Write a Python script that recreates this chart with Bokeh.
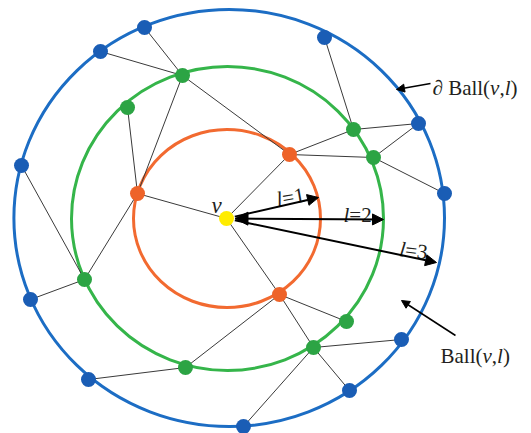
import math
from bokeh.plotting import figure
from bokeh.models import Range1d, Arrow, NormalHead, ColumnDataSource
from bokeh.core.properties import value
from bokeh.embed import file_html
from bokeh.resources import INLINE

# ---- data (diagram coordinates, y grows downward) ----
ring_names = ["orange", "green", "blue"]
ring_cx = [226.5, 227.0, 228.7]
ring_cy = [218.0, 218.0, 217.5]
ring_rx = [93.5, 156.0, 215.3]
ring_ry = [89.0, 152.0, 208.5]
ring_colors = ["#f26a30", "#35b54a", "#1c6dc4"]

node_names = ["v",
              "O1", "O2", "O3",
              "G1", "G2", "G3", "G4", "G5", "G6", "G7", "G8",
              "B1", "B2", "B3", "B4", "B5", "B6", "B7", "B8", "B9", "B10", "B11"]
node_x = [226, 137, 289, 279,
          182, 127, 353, 373, 84, 185, 346, 313,
          144, 100, 21, 324, 418, 444, 30, 88, 243, 401, 349]
node_y = [218, 193, 154, 294,
          75, 107, 129, 157, 279, 367, 321, 347,
          27, 51, 165, 37, 123, 193, 299, 379, 426, 339, 390]
node_level = [0, 1, 1, 1, 2, 2, 2, 2, 2, 2, 2, 2,
              3, 3, 3, 3, 3, 3, 3, 3, 3, 3, 3]
level_colors = ["#ffec00", "#ee6329", "#2ca444", "#1a5db5"]

edges = [("v", "O1"), ("v", "O2"), ("v", "O3"),
         ("O1", "G1"), ("O1", "G2"), ("O1", "G5"),
         ("G1", "B1"), ("G1", "B2"), ("G1", "O2"),
         ("B3", "G5"), ("G5", "B7"),
         ("O3", "G6"), ("G6", "B8"),
         ("O3", "G7"), ("O3", "G8"), ("G8", "B9"), ("G8", "B10"), ("G8", "B11"),
         ("O2", "G3"), ("O2", "G4"), ("G3", "B4"), ("G3", "B5"), ("G4", "B5"), ("G4", "B6")]

radius_ends_x = [318, 383, 436]
radius_ends_y = [197, 219, 262]
radius_labels = ["1", "2", "3"]

# ---- figure ----
p = figure(width=531, height=433, x_range=Range1d(0, 531), y_range=Range1d(433, 0),
           output_backend="svg", toolbar_location=None, min_border=0,
           x_axis_type=None, y_axis_type=None)
p.grid.visible = False
p.outline_line_color = None
p.background_fill_color = "white"

# rings
p.ellipse(x=ring_cx, y=ring_cy, width=[2 * r for r in ring_rx], height=[2 * r for r in ring_ry],
          fill_color=None, line_color=ring_colors, line_width=3)

# edges
idx = {n: i for i, n in enumerate(node_names)}
p.segment(x0=[node_x[idx[a]] for a, b in edges], y0=[node_y[idx[a]] for a, b in edges],
          x1=[node_x[idx[b]] for a, b in edges], y1=[node_y[idx[b]] for a, b in edges],
          line_color="#3a3a3a", line_width=1)

# radius arrows (share one start head at v)
vx, vy = node_x[0], node_y[0]
for i, (ex, ey) in enumerate(zip(radius_ends_x, radius_ends_y)):
    ang = math.atan2(ey - vy, ex - vx)
    sx, sy = vx + 8.5 * math.cos(ang), vy + 8.5 * math.sin(ang)
    start = NormalHead(size=13, fill_color="black", line_color="black", line_width=1) if i == 1 else None
    p.add_layout(Arrow(x_start=sx, y_start=sy, x_end=ex, y_end=ey,
                       line_color="black", line_width=2, start=start,
                       end=NormalHead(size=11, fill_color="black", line_color="black", line_width=1)))

# annotation arrows
p.add_layout(Arrow(x_start=430, y_start=83, x_end=396, y_end=89, line_color="black", line_width=1.5,
                   end=NormalHead(size=8, fill_color="black", line_color="black", line_width=1)))
p.add_layout(Arrow(x_start=455, y_start=335, x_end=401, y_end=300, line_color="black", line_width=1.5,
                   end=NormalHead(size=8, fill_color="black", line_color="black", line_width=1)))

# nodes
p.scatter(x=node_x, y=node_y, size=15, fill_color=[level_colors[l] for l in node_level],
          line_color=None)

# ---- text pieces (Times-like metrics) ----
W = {"B": 667, "a": 444, "l": 278, "(": 333, ")": 333, ",": 250, " ": 250, "v": 444,
     "=": 564, "1": 500, "2": 500, "3": 500, "\u2202": 494}

def rich(x0, y0, pieces, angle_deg=0.0, fs=21):
    a = math.radians(angle_deg)
    d = 0.0
    for txt, ital in pieces:
        px = x0 + d * math.cos(a)
        py = y0 - d * math.sin(a)
        # glyph angle is counter-clockwise on screen
        p.text(x=[px], y=[py], text=[txt], text_font=value("Liberation Serif"),
               text_font_size=f"{fs}px", text_font_style="italic" if ital else "normal",
               text_align="left", text_baseline="alphabetic", text_color="#231f20", angle=a)
        d += sum(W.get(c, 500) for c in txt) * fs / 1000.0

rich(211, 205, [("v", True)], fs=23)
rich(276, 199, [("l", True), ("=" + radius_labels[0], False)], 10)
rich(343, 214, [("l", True), ("=" + radius_labels[1], False)], 0)
rich(399, 248.5, [("l", True), ("=" + radius_labels[2], False)], -7)
rich(432, 87, [("\u2202 Ball(", False), ("v", True), (",", False), ("l", True), (")", False)])
rich(440, 355, [("Ball(", False), ("v", True), (",", False), ("l", True), (")", False)])

open("out.html", "w").write(file_html(p, INLINE))
